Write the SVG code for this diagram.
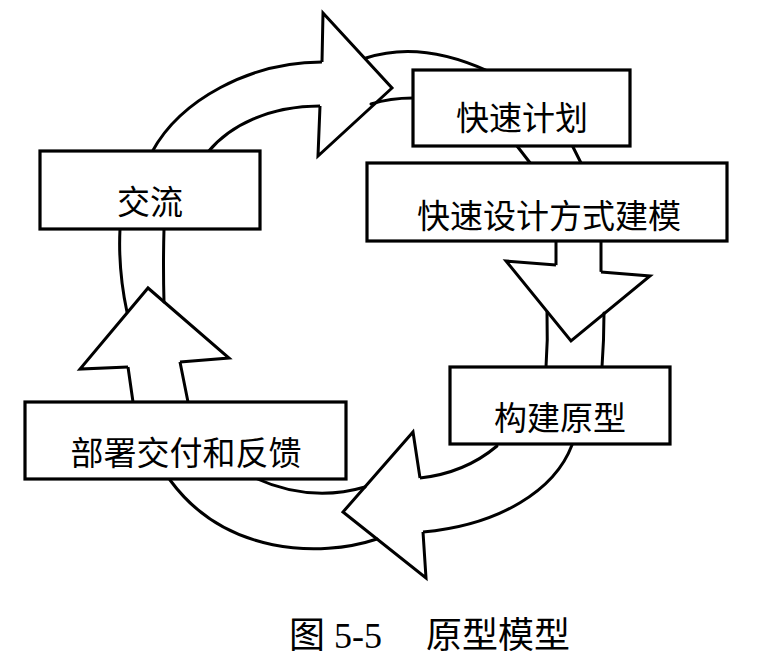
<svg xmlns="http://www.w3.org/2000/svg" width="762" height="670" viewBox="0 0 762 670">
<style>
.ln{fill:none;stroke:#000;stroke-width:3;stroke-linecap:round;stroke-linejoin:round}
.ah{fill:#fff;stroke:#000;stroke-width:3;stroke-linejoin:miter}
.box{fill:#fff;stroke:#000;stroke-width:3.2}
.lbl{font-family:"Noto Sans CJK SC","Noto Sans",sans-serif;font-size:33px;fill:#000;text-anchor:middle;dominant-baseline:central}
.cap{font-family:"Liberation Serif","Noto Sans CJK SC",serif;font-size:36px;fill:#000}
</style>
<rect width="762" height="670" fill="#fff"/>
<g id="connectors">
  <!-- top arrow: 交流 -> 快速计划 -->
  <path class="ln" d="M152,152 C180,100 250,62 322,62"/>
  <path class="ln" d="M208,152 C230,125 270,106 320,106"/>
  <path class="ah" d="M322,62 L323,13 L392,88 L318,156 L320,106"/>
  <path class="ln" d="M366,58 Q420,40 488,71"/>
  <path class="ln" d="M371,104 Q390,98 413,98"/>
  <!-- 快速计划 -> 快速设计方式建模 -->
  <path class="ln" d="M517,146 L531,164"/>
  <path class="ln" d="M572,145 L581,163"/>
  <!-- right arrow down -->
  <path class="ln" d="M556,241 L556,265"/>
  <path class="ln" d="M601,240 L601,272"/>
  <path class="ah" d="M556,265 L506,261 L571,341 L650,276 L601,272"/>
  <path class="ln" d="M547,312 Q548,340 546,367"/>
  <path class="ln" d="M604,313 Q604,340 602,367"/>
  <!-- bottom arrow: 构建原型 -> 部署交付和反馈 -->
  <path class="ln" d="M497,446 Q465,473 420,478"/>
  <path class="ln" d="M572,445 C555,490 500,525 423,532"/>
  <path class="ah" d="M420,478 L413,432 L343,512 L426,578 L423,532"/>
  <path class="ln" d="M365,487 Q310,503 255,478"/>
  <path class="ln" d="M377,539 C320,558 225,555 170,480"/>
  <!-- left arrow up -->
  <path class="ln" d="M133,402 L128,367"/>
  <path class="ln" d="M188,402 L180,362"/>
  <path class="ah" d="M128,367 L80,369 L148,288 L229,358 L180,362"/>
  <path class="ln" d="M127,312 Q118,270 120,229"/>
  <path class="ln" d="M164,302 Q163,265 164,229"/>
</g>
<g id="node-jiaoliu">
  <rect class="box" x="40" y="151" width="220" height="78"/>
  <text class="lbl" x="150" y="200">交流</text>
</g>
<g id="node-kuaisujihua">
  <rect class="box" x="413" y="70" width="217" height="76"/>
  <text class="lbl" x="522" y="116">快速计划</text>
</g>
<g id="node-kuaisusheji">
  <rect class="box" x="367" y="163" width="360" height="78"/>
  <text class="lbl" x="549" y="214">快速设计方式建模</text>
</g>
<g id="node-goujian">
  <rect class="box" x="450" y="367" width="220" height="77"/>
  <text class="lbl" x="560" y="416">构建原型</text>
</g>
<g id="node-bushu">
  <rect class="box" x="25" y="402" width="321" height="77"/>
  <text class="lbl" x="186" y="451">部署交付和反馈</text>
</g>
<g id="caption">
  <text class="cap" x="289" y="648">图</text>
  <text class="cap" x="334" y="648">5-5</text>
  <text class="cap" x="426" y="648">原型模型</text>
</g>
</svg>
